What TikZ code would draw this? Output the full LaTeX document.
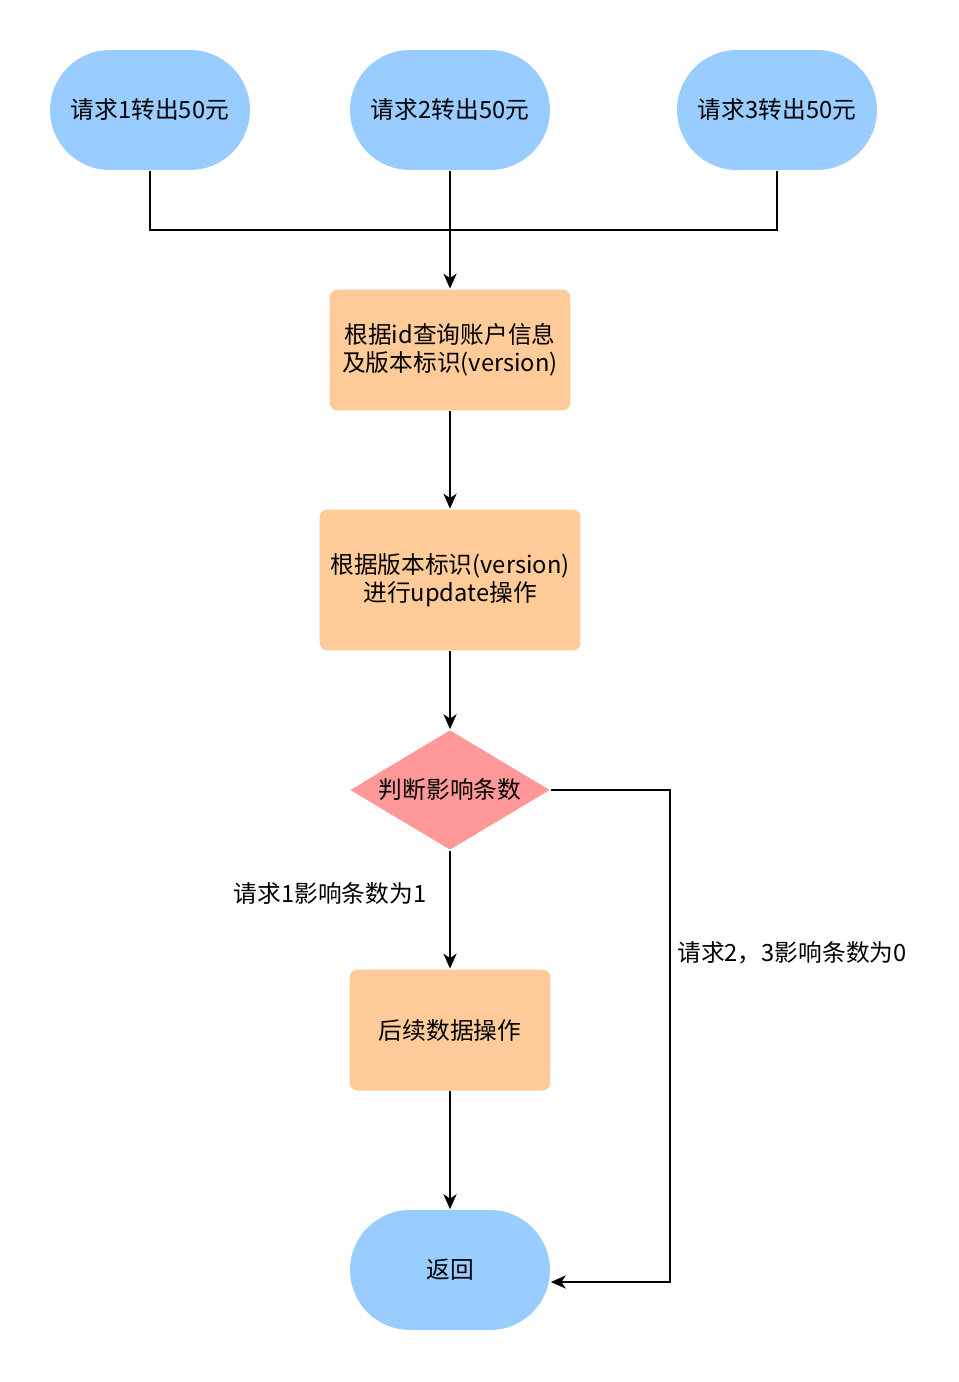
\documentclass[tikz,border=0pt]{standalone}
\usepackage{fontspec}
\setmainfont{Noto Sans CJK SC}
\usetikzlibrary{arrows.meta,shapes.geometric}
\definecolor{ovalblue}{HTML}{99CCFF}
\definecolor{boxorange}{HTML}{FFCC99}
\definecolor{diapink}{HTML}{FF9999}
\begin{document}
\begin{tikzpicture}[x=0.02cm, y=-0.02cm, >={Stealth[length=8.5pt,width=7.5pt,inset=2.5pt]}, font=\fontsize{13.5pt}{16pt}\selectfont, line width=1pt]
        \tikzset{oval/.style={fill=ovalblue, rounded corners=1.2cm, minimum width=4cm, minimum height=2.4cm, align=center},
                 box/.style={fill=boxorange, rounded corners=0.16cm, align=center},
                 decide/.style={diamond, fill=diapink, aspect=1.67, inner sep=0pt, minimum width=4cm, minimum height=2.4cm}}
        \useasboundingbox (0,0) rectangle (958,1382);
        \node[oval] (req1) at (150,110) {请求1转出50元};
        \node[oval] (req2) at (450,110) {请求2转出50元};
        \node[oval] (req3) at (777,110) {请求3转出50元};
        \node[box, minimum width=4.82cm, minimum height=2.42cm] (query) at (450,350) {根据id查询账户信息\\及版本标识(version)};
        \node[box, minimum width=5.22cm, minimum height=2.82cm] (update) at (450,580) {根据版本标识(version)\\进行update操作};
        \node[decide] (check) at (450,790) {判断影响条数};
        \node[box, minimum width=4.02cm, minimum height=2.42cm] (next) at (450,1030) {后续数据操作};
        \node[oval] (ret) at (450,1270) {返回};
        \node (oklabel) at (330,893) {请求1影响条数为1};
        \node (faillabel) at (792,953) {请求2，3影响条数为0};
        \coordinate (merge) at (450,230);
        \coordinate (loop) at (670,790);
        \draw (req1) |- (merge);
        \draw (req3) |- (merge);
        \draw (req2) -- (merge);
        \draw[->] (merge) -- (query);
        \draw[->] (query) -- (update);
        \draw[->] (update) -- (check);
        \draw[->] (check) -- (next);
        \draw[->] (next) -- (ret);
        \draw[->] (check.east) -- (loop) |- ([yshift=-0.24cm]ret.east);
    \end{tikzpicture}
\end{document}
